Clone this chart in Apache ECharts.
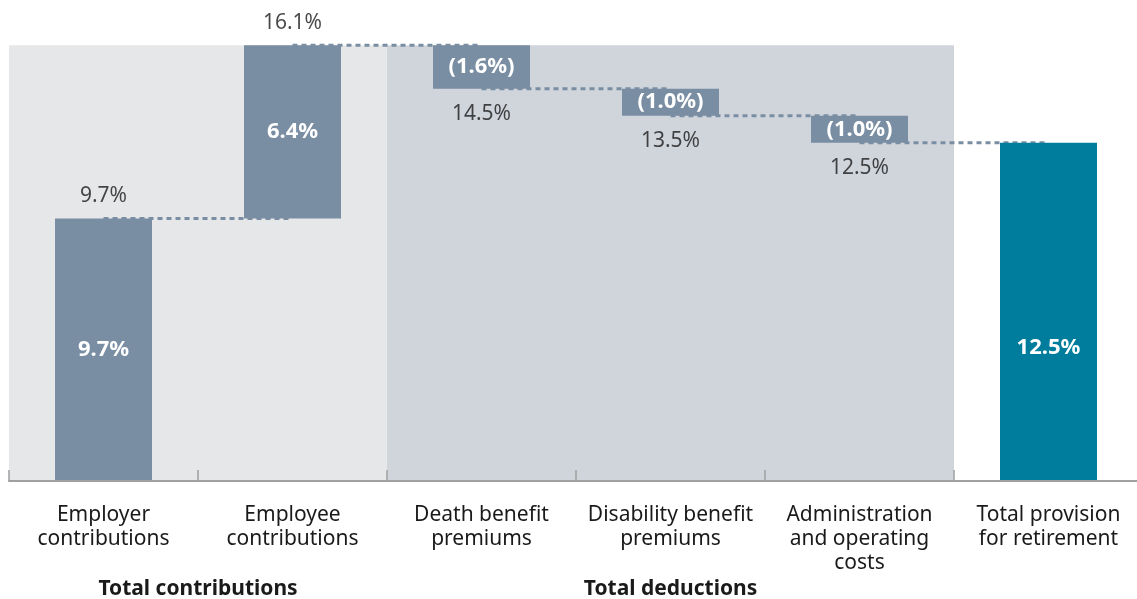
<!DOCTYPE html>
<html>
<head>
<meta charset="utf-8">
<script src="https://cdn.jsdelivr.net/npm/echarts@6/dist/echarts.min.js"></script>
<style>
  html, body { margin: 0; padding: 0; background: #fff; }
  #chart { width: 1137px; height: 599px; }
</style>
</head>
<body>
<div id="chart"></div>
<script>
// data
var categories = ['Employer\ncontributions', 'Employee\ncontributions', 'Death benefit\npremiums',
  'Disability benefit\npremiums', 'Administration\nand operating\ncosts', 'Total provision\nfor retirement'];
var changes = [9.7, 6.4, -1.6, -1.0, -1.0];   // steps of the waterfall
var total = 12.5;                              // final bar
var barLabels = ['9.7%', '6.4%', '(1.6%)', '(1.0%)', '(1.0%)', '12.5%'];
var runningLabels = ['9.7%', '16.1%', '14.5%', '13.5%', '12.5%'];
var groupNames = ['Total contributions', 'Total deductions'];
var groupFrom = [0, 2];
var groupTo = [1, 4];

var FONT = '"Noto Sans", sans-serif';
var SLATE = '#7a8ea3';
var TEAL = '#007d9c';
var bgColors = ['#e6e7e9', '#d0d4db'];

// running totals -> base (invisible) and visible part of each bar
var running = [];
var base = [], size = [];
var acc = 0;
changes.forEach(function (c) {
  var next = Math.round((acc + c) * 10) / 10;
  base.push(Math.min(acc, next));
  size.push(Math.abs(c));
  running.push(next);
  acc = next;
});
base.push(0);
size.push(total);
var peak = Math.max.apply(null, running);

// background bands per group
var bgData = categories.map(function (c, i) {
  for (var g = 0; g < groupNames.length; g++) {
    if (i >= groupFrom[g] && i <= groupTo[g]) {
      return { value: peak, itemStyle: { color: bgColors[g] } };
    }
  }
  return '-';
});

var sizeData = size.map(function (v, i) {
  var item = { value: v, itemStyle: { color: i === size.length - 1 ? TEAL : SLATE } };
  if (i === size.length - 1) {
    item.label = { position: 'insideBottom', distance: 122 };
  }
  return item;
});

// running total labels: above for rising steps, below for falling steps
var runData = running.map(function (v, i) {
  return {
    value: [i, v],
    label: { position: changes[i] > 0 ? 'top' : 'bottom', distance: changes[i] > 0 ? 12 : 15 }
  };
});

// dotted connectors
var connectors = running.map(function (v, i) {
  return {
    type: 'line',
    z: 2,
    silent: true,
    symbol: 'none',
    lineStyle: { color: SLATE, width: 3, type: [5, 4] },
    data: [[i, v], [i + 1, v]]
  };
});

var chart = echarts.init(document.getElementById('chart'));
var option = {
  animation: false,
  grid: { left: 9, width: 1134, top: 21, bottom: 118, outerBoundsMode: 'none' },
  xAxis: [{
    type: 'category',
    data: categories,
    z: 10,
    axisLine: { lineStyle: { color: '#a0a0a0', width: 2 } },
    axisTick: { show: true, inside: true, length: 11, lineStyle: { color: '#a0a0a0', width: 1.5 } },
    axisLabel: { interval: 0, margin: 22, color: '#1a1a1a', fontFamily: FONT, fontSize: 21, lineHeight: 24 }
  }, {
    type: 'category',
    data: categories,
    show: false
  }],
  yAxis: { type: 'value', min: 0, max: 17, show: false },
  series: [{
    type: 'bar',
    xAxisIndex: 1,
    z: 1,
    silent: true,
    barWidth: '100%',
    data: bgData
  }, {
    type: 'bar',
    stack: 'wf',
    z: 3,
    barWidth: 97,
    itemStyle: { color: 'transparent' },
    data: base
  }, {
    type: 'bar',
    stack: 'wf',
    z: 3,
    barWidth: 97,
    label: {
      show: true,
      position: 'inside',
      color: '#fff',
      fontFamily: FONT,
      fontWeight: 'bold',
      fontSize: 22,
      formatter: function (p) { return barLabels[p.dataIndex]; }
    },
    data: sizeData
  }, {
    type: 'scatter',
    z: 4,
    symbolSize: 0,
    label: {
      show: true,
      color: '#1a1a1a',
      fontFamily: FONT,
      fontSize: 21,
      formatter: function (p) { return runningLabels[p.dataIndex]; }
    },
    data: runData
  }].concat(connectors)
};
chart.setOption(option);

// group titles under the axis labels
var graphics = groupNames.map(function (name, g) {
  var x1 = chart.convertToPixel({ xAxisIndex: 0 }, groupFrom[g]);
  var x2 = chart.convertToPixel({ xAxisIndex: 0 }, groupTo[g]);
  return {
    type: 'text',
    x: (x1 + x2) / 2,
    y: 589,
    style: {
      text: name,
      fill: '#1a1a1a',
      font: 'bold 21px ' + FONT,
      align: 'center',
      verticalAlign: 'middle'
    }
  };
});
chart.setOption({ graphic: graphics });
</script>
</body>
</html>
